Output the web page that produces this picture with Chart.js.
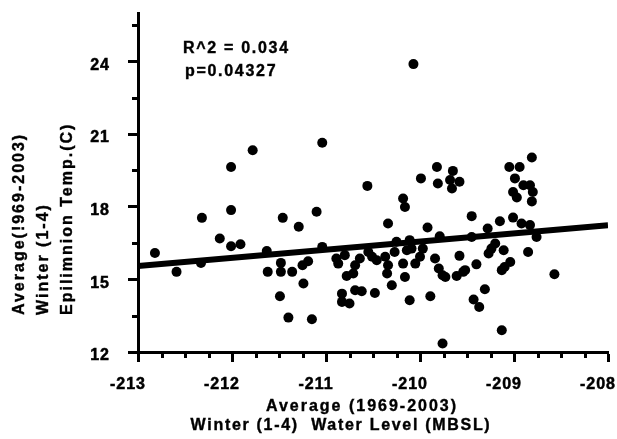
<!DOCTYPE html>
<html>
<head>
<meta charset="utf-8">
<title>Epilimnion temperature vs water level</title>
<script src="https://cdn.jsdelivr.net/npm/chart.js@4.4.0/dist/chart.umd.min.js"></script>
<style>
  html, body { margin: 0; padding: 0; background: #fff; }
  #wrap { width: 617px; height: 439px; }
</style>
</head>
<body>
<div id="wrap"><canvas id="scatter" width="617" height="439"></canvas></div>
<script>
// --- 1. DATA ---
const waterLevel = [
  -212.82, -212.59, -212.33, -212.32, -212.13, -212.01, -211.91, -212.01, -212.01, -211.78,
  -211.63, -211.62, -211.48, -211.48, -211.36, -211.49, -211.40, -211.46, -211.29, -211.25,
  -211.19, -211.24, -211.15, -211.10, -211.04, -211.04, -210.89, -210.87, -210.80, -210.64,
  -210.69, -210.71, -210.78, -210.55, -210.46, -210.37, -210.34, -210.35, -210.25, -210.27,
  -210.18, -210.16, -210.11, -210.09, -210.05, -210.14, -210.83, -210.83, -210.75, -210.69,
  -210.62, -210.48, -210.30, -210.11, -210.56, -210.18, -210.16, -209.99, -210.34, -210.07,
  -209.82, -209.65, -209.68, -209.58, -209.66, -209.81, -209.45, -209.92, -209.79, -209.45,
  -209.97, -210.00, -209.84, -209.58, -209.40, -209.80, -209.76, -209.61, -209.52, -209.89,
  -209.43, -209.37, -209.31, -209.76, -209.13, -209.05, -208.94, -208.99, -208.90, -208.83,
  -209.01, -208.97, -208.80, -208.81, -208.81, -209.15, -209.01, -208.92, -208.83, -209.28,
  -208.76, -209.20, -209.24, -209.27, -209.11, -208.85, -209.04, -209.10, -209.13, -208.57,
  -210.51, -209.73, -209.54
];
const epiTemp = [
  16.09, 15.31, 15.68, 17.54, 16.69, 16.37, 16.45, 17.86, 19.64, 20.33,
  16.17, 15.31, 15.68, 15.31, 15.31, 14.30, 13.42, 17.54, 17.17, 15.58,
  15.75, 14.83, 13.35, 17.79, 20.64, 16.34, 15.86, 15.65, 16.00, 15.86,
  15.58, 15.24, 15.14, 16.13, 15.79, 15.93, 15.58, 15.24, 16.55, 16.13,
  15.65, 15.10, 16.62, 16.27, 15.65, 16.20, 14.41, 14.07, 14.00, 14.55,
  14.51, 14.44, 14.76, 14.14, 18.86, 18.34, 17.99, 19.17, 17.31, 23.89,
  19.64, 19.48, 19.10, 19.03, 18.75, 18.96, 17.61, 17.14, 16.78, 16.75,
  16.27, 15.93, 15.86, 15.97, 15.62, 15.45, 15.17, 15.14, 15.38, 14.30,
  14.17, 13.86, 14.59, 12.35, 12.90, 19.64, 19.64, 19.17, 18.89, 18.89,
  18.61, 18.38, 18.61, 18.22, 20.03, 17.40, 17.55, 17.31, 17.24, 17.10,
  16.75, 16.48, 16.27, 16.07, 16.20, 16.13, 15.72, 15.51, 15.38, 15.21,
  15.93, 15.10, 15.31
];
const fitX = [-213, -208];
const fitY = [15.55, 17.23];
const xTicks = [-213, -212, -211, -210, -209, -208];
const yTicks = [12, 15, 18, 21, 24];
const statLines = ['R^2 = 0.034', 'p=0.04327'];
const xTitle = ['Average (1969-2003)', 'Winter (1-4)  Water Level (MBSL)'];
const yTitle = ['Average(!969-2003)', 'Winter (1-4)', 'Epilimnion Temp.(C)'];

// --- 2. TEXT / MINOR TICKS PLUGIN ---
const FAMILY = "'Liberation Sans', Arial, sans-serif";
const TEXT_FONT = 'bold 16px ' + FAMILY;

function heavyText(ctx, text, x, y) {
  // the original lettering is a bit heavier than plain bold
  ctx.fillText(text, x, y);
  ctx.strokeText(text, x, y);
}

const annotate = {
  id: 'annotate',
  beforeLayout(chart) { chart.ctx.letterSpacing = '1px'; },
  beforeDraw(chart) { chart.ctx.letterSpacing = '1px'; },
  afterDraw(chart) {
    const ctx = chart.ctx;
    const xs = chart.scales.x;
    const ys = chart.scales.y;
    ctx.save();

    // minor ticks, quarter steps on x and half steps on y
    ctx.strokeStyle = '#000';
    ctx.lineWidth = 3;
    ctx.beginPath();
    for (let v = xs.min; v <= xs.max; v += 0.25) {
      if (Number.isInteger(v)) continue;
      const px = Math.round(xs.getPixelForValue(v)) + 0.5;
      ctx.moveTo(px, xs.top);
      ctx.lineTo(px, xs.top + 6);
    }
    for (let v = 13.5; v < ys.max; v += 3) {
      const py = Math.round(ys.getPixelForValue(v)) + 0.5;
      ctx.moveTo(ys.right, py);
      ctx.lineTo(ys.right - 6, py);
    }
    ctx.stroke();

    ctx.fillStyle = '#000';
    ctx.lineWidth = 0.4;
    ctx.font = TEXT_FONT;
    ctx.textBaseline = 'middle';

    // R^2 / p annotation
    ctx.letterSpacing = '1.7px';
    ctx.textAlign = 'left';
    heavyText(ctx, statLines[0], 183, 49);
    heavyText(ctx, statLines[1], 185, 72);

    // x axis title (two lines)
    ctx.textAlign = 'center';
    ctx.letterSpacing = '2px';
    heavyText(ctx, xTitle[0], 362, 407);
    ctx.letterSpacing = '1.7px';
    heavyText(ctx, xTitle[1], 341, 426);

    // y axis title, rotated, lines start at the same height
    ctx.letterSpacing = '2px';
    ctx.textAlign = 'left';
    [20, 44, 68].forEach((cx, i) => {
      ctx.save();
      ctx.translate(cx, 315);
      ctx.rotate(-Math.PI / 2);
      heavyText(ctx, yTitle[i], 0, 0);
      ctx.restore();
    });

    ctx.restore();
  }
};

// --- 3. CHART ---
const tickFont = { family: FAMILY, size: 16, weight: 'bold' };

new Chart(document.getElementById('scatter'), {
  type: 'scatter',
  data: {
    datasets: [
      {
        type: 'line',
        data: fitX.map((x, i) => ({ x: x, y: fitY[i] })),
        borderColor: '#000',
        borderWidth: 6,
        pointRadius: 0,
        fill: false,
        order: 2
      },
      {
        data: waterLevel.map((x, i) => ({ x: x, y: epiTemp[i] })),
        backgroundColor: '#000',
        borderWidth: 0,
        pointRadius: 5,
        order: 1
      }
    ]
  },
  options: {
    responsive: false,
    animation: false,
    devicePixelRatio: 1,
    layout: { padding: { top: 13, right: 9, left: 0, bottom: 0 } },
    plugins: { legend: { display: false }, tooltip: { enabled: false } },
    scales: {
      x: {
        type: 'linear',
        min: -213,
        max: -208,
        afterBuildTicks: s => { s.ticks = xTicks.map(v => ({ value: v })); },
        afterFit: s => { s.height = 87; s.paddingLeft = 0; s.paddingRight = 0; },
        grid: { drawOnChartArea: false, tickLength: 10, tickWidth: 3, tickColor: '#000' },
        border: { color: '#000', width: 3 },
        ticks: {
          color: '#000', font: tickFont, padding: 13, labelOffset: -10,
          maxRotation: 0, autoSkip: false, textStrokeColor: '#000', textStrokeWidth: 0.5
        }
      },
      y: {
        min: 12,
        max: 26,
        afterBuildTicks: s => { s.ticks = yTicks.map(v => ({ value: v })); },
        afterFit: s => { s.width = 138; s.paddingTop = 0; s.paddingBottom = 0; },
        grid: { drawOnChartArea: false, tickLength: 10, tickWidth: 3, tickColor: '#000' },
        border: { color: '#000', width: 3 },
        ticks: {
          color: '#000', font: tickFont, padding: 18, labelOffset: 4,
          autoSkip: false, textStrokeColor: '#000', textStrokeWidth: 0.5
        }
      }
    }
  },
  plugins: [annotate]
});
</script>
</body>
</html>
